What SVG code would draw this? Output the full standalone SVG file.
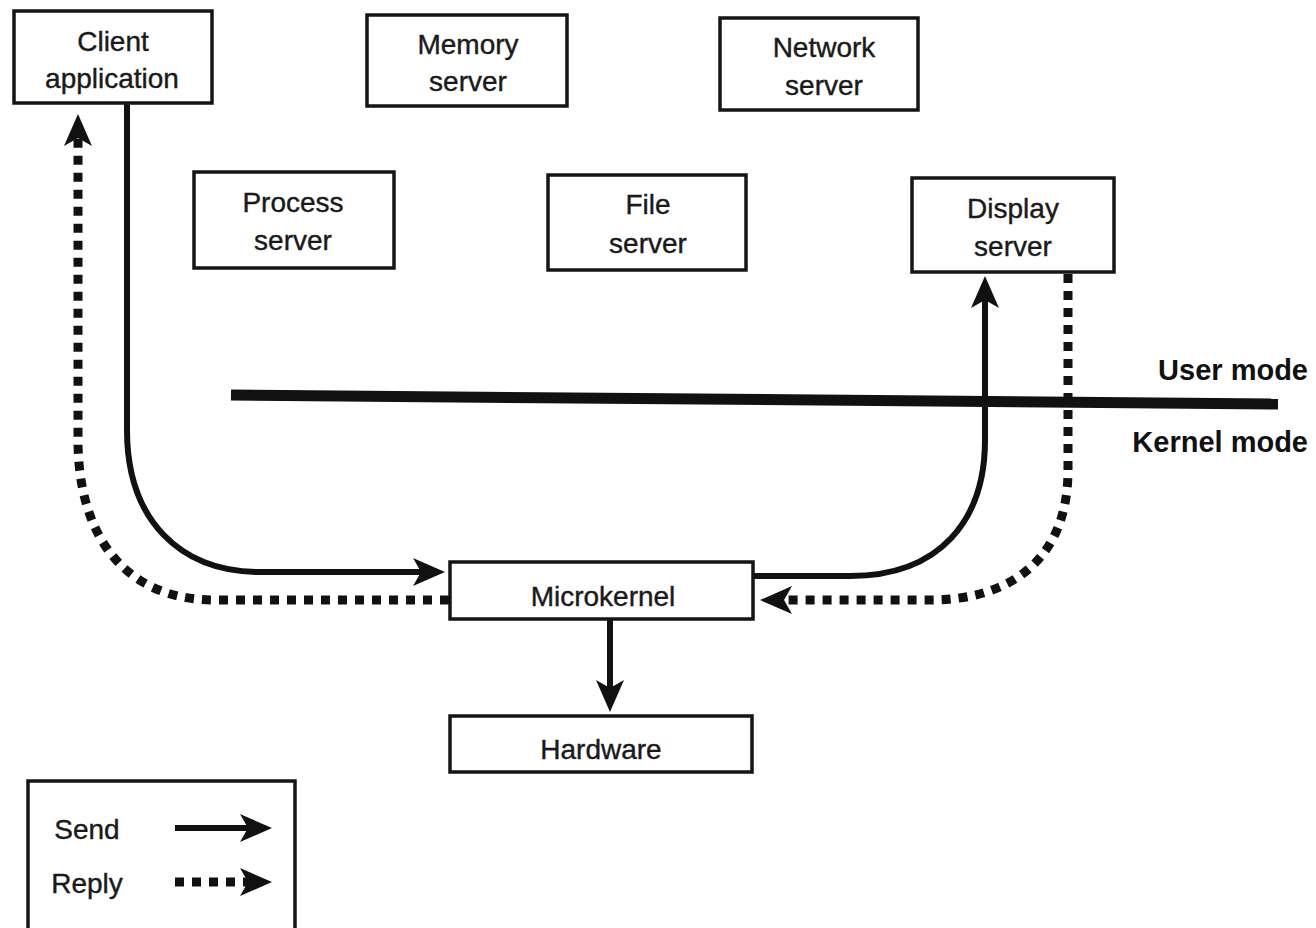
<svg xmlns="http://www.w3.org/2000/svg" width="1316" height="928" viewBox="0 0 1316 928">
<style>
.box{fill:#fff;stroke:#151515;stroke-width:3.5}
.t{font-family:"Liberation Sans",Arial,sans-serif;font-size:28px;fill:#1a1a1a;text-anchor:middle;stroke:#1a1a1a;stroke-width:0.4}
.m{font-family:"Liberation Sans",Arial,sans-serif;font-size:29px;font-weight:bold;fill:#111;text-anchor:end}
.send{fill:none;stroke:#111;stroke-width:6}
.reply{fill:none;stroke:#111;stroke-width:9;stroke-dasharray:9 8}
</style>
<defs>
<marker id="ah" viewBox="-10 -16 36 32" refX="0" refY="0" markerWidth="36" markerHeight="32" markerUnits="userSpaceOnUse" orient="auto">
<path d="M24,0 L-8,-14 L0,0 L-8,14 Z" fill="#111"/>
</marker>
</defs>
<rect width="1316" height="928" fill="#fff"/>
<g id="mode-line">
<line x1="231" y1="395" x2="1278" y2="404" stroke="#111" stroke-width="11"/>
<text class="m" x="1308" y="380">User mode</text>
<text class="m" x="1308" y="452">Kernel mode</text>
</g>
<g id="connectors">
<path class="send" d="M127,103 L127,430 C127,520 180,572 260,572 L421,572" marker-end="url(#ah)"/>
<path class="reply" d="M449,600 L215,600 C120,600 78,530 78,440 L78,138" marker-end="url(#ah)"/>
<path class="send" d="M753,576 L850,576 C940,576 985,520 985,440 L985,300" marker-end="url(#ah)"/>
<path class="reply" d="M1068,274 L1068,470 C1068,560 1010,600 930,600 L784,600" marker-end="url(#ah)"/>
<path class="send" d="M610,619 L610,688" marker-end="url(#ah)"/>
</g>
<g id="client">
<rect class="box" x="14" y="11" width="198" height="92"/>
<text class="t" x="113" y="51">Client</text>
<text class="t" x="112" y="88">application</text>
</g>
<g id="memory">
<rect class="box" x="367" y="15" width="200" height="91"/>
<text class="t" x="468" y="54">Memory</text>
<text class="t" x="468" y="91">server</text>
</g>
<g id="network">
<rect class="box" x="720" y="18" width="198" height="92"/>
<text class="t" x="824" y="57">Network</text>
<text class="t" x="824" y="95">server</text>
</g>
<g id="process">
<rect class="box" x="194" y="172" width="200" height="96"/>
<text class="t" x="293" y="212">Process</text>
<text class="t" x="293" y="250">server</text>
</g>
<g id="file">
<rect class="box" x="548" y="175" width="198" height="95"/>
<text class="t" x="648" y="214">File</text>
<text class="t" x="648" y="253">server</text>
</g>
<g id="display">
<rect class="box" x="912" y="178" width="202" height="94"/>
<text class="t" x="1013" y="218">Display</text>
<text class="t" x="1013" y="256">server</text>
</g>
<g id="microkernel">
<rect class="box" x="450" y="562" width="303" height="57"/>
<text class="t" x="603" y="606">Microkernel</text>
</g>
<g id="hardware">
<rect class="box" x="450" y="716" width="302" height="56"/>
<text class="t" x="601" y="759">Hardware</text>
</g>
<g id="legend">
<rect class="box" x="28" y="781" width="267" height="170"/>
<text class="t" x="87" y="839">Send</text>
<text class="t" x="87" y="893">Reply</text>
<path class="send" d="M175,828 L248,828" marker-end="url(#ah)"/>
<path class="reply" d="M175,882 L248,882" marker-end="url(#ah)"/>
</g>
</svg>
